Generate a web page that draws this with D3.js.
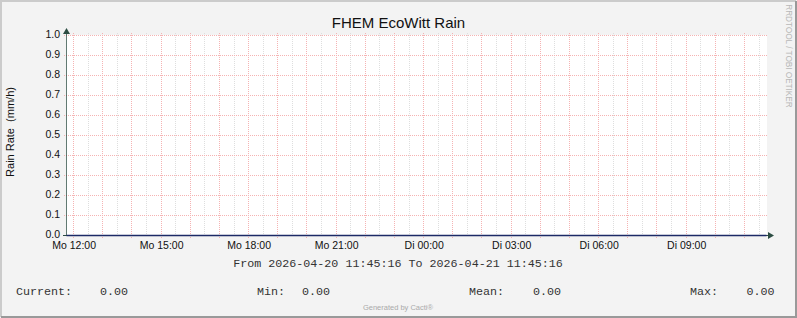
<!DOCTYPE html>
<html>
<head>
<meta charset="utf-8">
<script src="https://cdn.jsdelivr.net/npm/d3@7"></script>
<style>
  body { margin: 0; background: #fff; }
  text { font-family: "Liberation Sans", Arial, sans-serif; }
  .mono { font-family: "Liberation Mono", "DejaVu Sans Mono", monospace; white-space: pre; }
</style>
</head>
<body>
<svg id="chart"></svg>
<script>
// chart data (hourly rain rate samples, all zero in this period)
var title = "FHEM EcoWitt Rain";
var yLabel = "Rain Rate  (mm/h)";
var rangeStart = new Date(2026, 3, 20, 11, 45, 16);
var rangeEnd = new Date(2026, 3, 21, 11, 45, 16);
var rainValues = [0, 0, 0, 0, 0, 0, 0, 0, 0, 0, 0, 0, 0,
                  0, 0, 0, 0, 0, 0, 0, 0, 0, 0, 0, 0, 0];
var yTicks = [0.0, 0.1, 0.2, 0.3, 0.4, 0.5, 0.6, 0.7, 0.8, 0.9, 1.0];
var xTickLabels = ["Mo 12:00", "Mo 15:00", "Mo 18:00", "Mo 21:00",
                   "Di 00:00", "Di 03:00", "Di 06:00", "Di 09:00"];
var legendNames = ["Current:", "Min:", "Mean:", "Max:"];

var W = 797, H = 318;
var margin = {top: 35, right: 31, bottom: 83, left: 66},
    width = 700,
    height = 200;

var svg = d3.select("#chart").attr("width", W).attr("height", H);

// dotted patterns (1px on / 1px off)
var gridRed = "#f5b3b3", gridGray = "#dedede";
var defs = svg.append("defs");
function dotPattern(id, color, horizontal) {
  var p = defs.append("pattern").attr("id", id)
      .attr("patternUnits", "userSpaceOnUse")
      .attr("width", horizontal ? 2 : 1).attr("height", horizontal ? 1 : 2);
  p.append("rect").attr("width", 1).attr("height", 1).attr("fill", color);
}
dotPattern("hRed", gridRed, true);
dotPattern("vRed", gridRed, false);
dotPattern("vGray", gridGray, false);

// background + 3d frame
svg.append("rect").attr("width", W).attr("height", H).attr("fill", "#f3f3f3");
svg.append("path").attr("d", "M0,1H796M1,0V317").attr("stroke", "#cbcbcb").attr("stroke-width", 2);
svg.append("path").attr("d", "M1,317H797M796,1V318").attr("stroke", "#999999").attr("stroke-width", 2);

var g = svg.append("g")
    .attr("transform", "translate(" + margin.left + "," + margin.top + ")");

// scales
var x = d3.scaleTime().domain([rangeStart, rangeEnd]).range([0.5, width + 0.5]);
var y = d3.scaleLinear().domain([0, 1]).range([height, 0]);

// sample times, one per hour starting at the full hour before start
var data = rainValues.map(function(v, i) {
  var t = d3.timeHour.offset(d3.timeHour.floor(rangeStart), i);
  if (t < rangeStart) t = rangeStart;
  if (t > rangeEnd) t = rangeEnd;
  return {date: t, value: v};
});

// canvas
g.append("rect").attr("width", width + 1).attr("height", height).attr("fill", "#ffffff");

// minor vertical grid (every 30 min)
var minorTimes = d3.timeMinute.every(30).range(rangeStart, rangeEnd)
    .filter(function(d) { return d.getMinutes() === 30; });
g.selectAll(".vminor").data(minorTimes).enter()
  .append("rect")
    .attr("x", function(d) { return Math.floor(x(d)); })
    .attr("y", -2).attr("width", 1).attr("height", height + 4)
    .attr("fill", "url(#vGray)")
    .attr("shape-rendering", "crispEdges");

// major vertical grid (every hour)
var hourTimes = d3.timeHour.every(1).range(rangeStart, rangeEnd);
g.selectAll(".vmajor").data(hourTimes).enter()
  .append("rect")
    .attr("x", function(d) { return Math.floor(x(d)); })
    .attr("y", -2).attr("width", 1).attr("height", height + 5)
    .attr("fill", "url(#vRed)")
    .attr("shape-rendering", "crispEdges");

// horizontal grid
g.selectAll(".hmajor").data(yTicks).enter()
  .append("rect")
    .attr("x", -2).attr("width", width + 3)
    .attr("y", function(d) { return Math.round(y(d)); })
    .attr("height", 1)
    .attr("fill", "url(#hRed)")
    .attr("shape-rendering", "crispEdges");

// y axis labels
var yAxis = d3.axisLeft(y).tickValues(yTicks).tickFormat(d3.format(".1f")).tickSize(0).tickPadding(6);
var ya = g.append("g").call(yAxis);
ya.select(".domain").remove();
ya.selectAll("text").attr("font-size", "10.5px").attr("fill", "#111")
  .attr("font-family", "Liberation Sans, Arial, sans-serif")
  .attr("dy", "0.28em");

// x axis labels
var labelTimes = d3.timeHour.every(3).range(rangeStart, rangeEnd);
var xAxis = d3.axisBottom(x).tickValues(labelTimes)
    .tickFormat(function(d, i) { return xTickLabels[i]; })
    .tickSize(0).tickPadding(7);
var xa = g.append("g").attr("transform", "translate(0," + height + ")").call(xAxis);
xa.select(".domain").remove();
xa.selectAll("text").attr("font-size", "10.5px").attr("fill", "#111")
  .attr("font-family", "Liberation Sans, Arial, sans-serif");

// axis lines with arrows
var axisColor = "#2c4d43";
g.append("line").attr("x1", 0.5).attr("x2", 0.5).attr("y1", height).attr("y2", -5)
  .attr("stroke", axisColor).attr("stroke-opacity", 0.75);
g.append("path").attr("d", "M-3,-1L0.5,-7L4,-1Z").attr("fill", axisColor);
g.append("line").attr("x1", -3).attr("x2", width + 4).attr("y1", height + 0.5).attr("y2", height + 0.5)
  .attr("stroke", axisColor);
g.append("path").attr("d", "M" + (width + 2) + "," + (height - 3) + "L" + (width + 8) + "," + (height + 0.5) +
  "L" + (width + 2) + "," + (height + 4) + "Z").attr("fill", axisColor);

// data line
var line = d3.line()
    .x(function(d) { return x(d.date); })
    .y(function(d) { return Math.round(y(d.value)) + 0.5; });
g.append("path").datum(data)
    .attr("fill", "none")
    .attr("stroke", "#1c2a66")
    .attr("stroke-width", 1.5)
    .attr("d", line);

// title
svg.append("text").attr("x", 398.5).attr("y", 28)
  .attr("text-anchor", "middle").attr("font-size", "15px").attr("fill", "#111")
  .text(title);

// y label
svg.append("text")
  .attr("transform", "translate(14,132) rotate(-90)")
  .attr("text-anchor", "middle").attr("font-size", "11px").attr("fill", "#111")
  .style("white-space", "pre")
  .text(yLabel);

// rrdtool watermark
svg.append("text")
  .attr("transform", "translate(785.5,56) rotate(90)")
  .attr("text-anchor", "middle").attr("font-size", "8.2px").attr("fill", "#b8b8b8")
  .text("RRDTOOL / TOBI OETIKER");

// time range line
var fmt = d3.timeFormat("%Y-%m-%d %H:%M:%S");
svg.append("text").attr("class", "mono")
  .attr("x", 398).attr("y", 267).attr("text-anchor", "middle")
  .attr("font-size", "11.7px").attr("fill", "#333")
  .text("From " + fmt(rangeStart) + " To " + fmt(rangeEnd));

// legend values
var f2 = d3.format(".2f");
var legendValues = [rainValues[rainValues.length - 1], d3.min(rainValues), d3.mean(rainValues), d3.max(rainValues)];
var legendNameX = [16, 257, 469, 690];
var legendValX = [100, 302, 533, 746.5];
legendNames.forEach(function(name, i) {
  svg.append("text").attr("class", "mono")
    .attr("x", legendNameX[i]).attr("y", 295)
    .attr("font-size", "11.7px").attr("fill", "#333")
    .text(name);
  svg.append("text").attr("class", "mono")
    .attr("x", legendValX[i]).attr("y", 295)
    .attr("font-size", "11.7px").attr("fill", "#333")
    .text(f2(legendValues[i]));
});

// footer
svg.append("text").attr("x", 398).attr("y", 310)
  .attr("text-anchor", "middle").attr("font-size", "7.5px").attr("fill", "#aaaaaa")
  .text("Generated by Cacti\u00ae");
</script>
</body>
</html>
